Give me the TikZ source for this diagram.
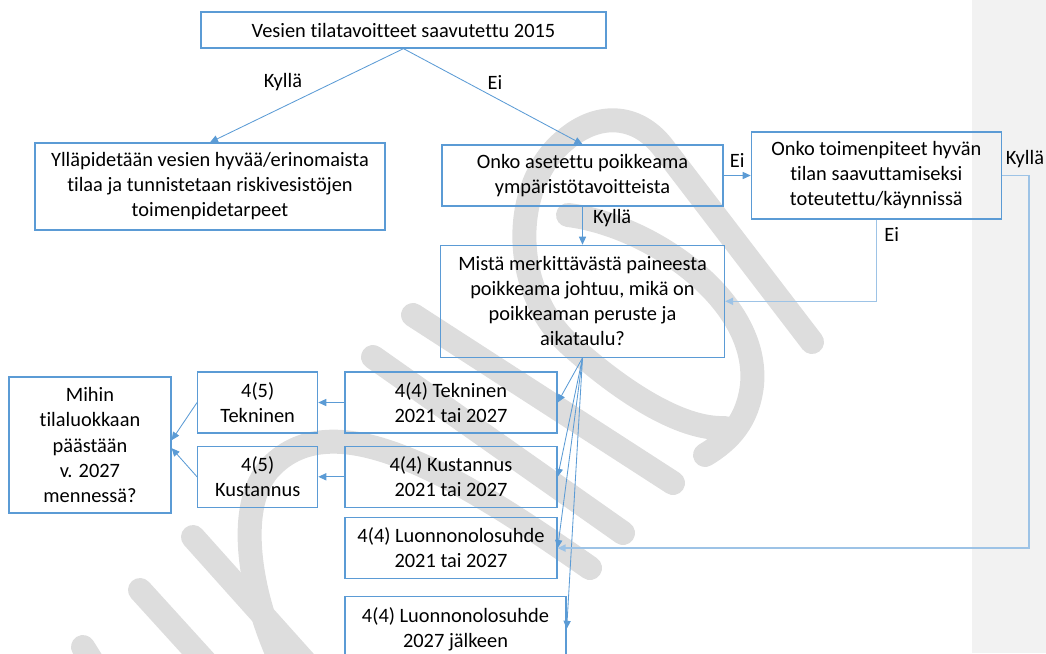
\documentclass[tikz,border=0pt]{standalone}
\usepackage{fontspec}
\setmainfont{Carlito}[Ligatures=NoCommon]
\usetikzlibrary{arrows.meta,positioning}
\definecolor{boxblue}{RGB}{91,155,213}
\definecolor{lineblue}{RGB}{157,195,230}
\definecolor{wmgray}{RGB}{221,221,221}
\definecolor{bandgray}{RGB}{242,242,242}

\begin{document}
\begin{tikzpicture}[x=0.025cm, y=-0.025cm,
  box/.style={draw=boxblue, line width=0.9pt, align=center,
              font=\fontsize{14.5}{17.8}\selectfont, inner sep=2pt},
  lbl/.style={font=\fontsize{14.5}{17.8}\selectfont, text=black, inner sep=1pt},
  arr/.style={-{Triangle[length=2mm,width=1.8mm]}, boxblue, line width=0.6pt},
  arrlight/.style={arr, lineblue, line width=1pt},
  wm/.style={wmgray, line width=0.6cm, line cap=round}
]
\useasboundingbox (0,0) rectangle (1046,653);
\fill[bandgray] (972,0) rectangle (1046,653);

% watermark
\draw[wm] (413,315) -- (673,483);
\draw[wm] (373,357) -- (623,533);
\draw[wm] (590,568) .. controls (450,470) and (330,400) .. (268,470)
          .. controls (235,510) and (250,600) .. (285,670);
\draw[wm] (193,537) -- (330,690);
\draw[wm] (140,590) -- (240,700);
\draw[wm] (83,647) -- (110,690);
\draw[wm] (812,342) -- (665,150) .. controls (640,115) and (600,110) .. (565,140)
          .. controls (510,185) and (510,290) .. (570,345)
          .. controls (620,390) and (680,430) .. (725,428);
\draw[wm] (568,215) .. controls (650,225) and (760,300) .. (752,385)
          .. controls (748,420) and (730,440) .. (705,455);

% Start
\node[box, minimum width=10.125cm, minimum height=0.9cm] (goal) at (403.5,30)
     {Vesien tilatavoitteet saavutettu 2015};
\node[lbl] (yes1) at (283,82) {Kyllä};
\node[lbl] (no1) at (495,82) {Ei};

% Kyllä branch
\node[box, minimum width=8.75cm, minimum height=2.175cm] (keep) at (210,186.5)
     {Ylläpidetään vesien hyvää/erinomaista\\tilaa ja tunnistetaan riskivesistöjen\\toimenpidetarpeet};
\draw[arr] (goal.south) -- (keep.north);

% Ei branch
\node[box, minimum width=7.025cm, minimum height=1.525cm] (dev) at (582.5,175.5)
     {Onko asetettu poikkeama\\ympäristötavoitteista};
\draw[arr] (goal.south) -- (dev.north);

\node[box, minimum width=6.25cm, minimum height=2.175cm, right=0.675cm of dev] (meas)
     {Onko toimenpiteet hyvän\\tilan saavuttamiseksi\\toteutettu/käynnissä};
\draw[arr] (dev.east) -- node[lbl, above, yshift=0.15cm] (no2) {Ei} (meas.west);

\node[box, minimum width=7.1cm, minimum height=2.8cm, below=0.95cm of dev] (press)
     {Mistä merkittävästä paineesta\\poikkeama johtuu, mikä on\\poikkeaman peruste ja\\aikataulu?};
\draw[arr] (dev.south) -- node[lbl, pos=0.3, right=0.22cm] (yes2) {Kyllä} (dev.south |- press.north);
\draw[arrlight] (meas.south) |- node[lbl, pos=0.09, right=0.15cm] (no3) {Ei} (press.east);

% Poikkeamat 4(4)
\node[box, minimum width=5.3cm, minimum height=1.525cm] (tech4) at (451,402.5)
     {4(4) Tekninen\\2021 tai 2027};
\node[box, minimum width=5.3cm, minimum height=1.525cm, below=0.3cm of tech4] (cost4)
     {4(4) Kustannus\\2021 tai 2027};
\node[box, minimum width=5.3cm, minimum height=1.525cm, below=0.225cm of cost4] (nat4)
     {4(4) Luonnonolosuhde\\2021 tai 2027};
\node[box, minimum width=5.525cm, minimum height=1.6cm,
      below=0.425cm of nat4.south west, anchor=north west] (late4)
     {4(4) Luonnonolosuhde\\2027 jälkeen};
\draw[arr] (press.south) -- (tech4.east);
\draw[arr] (press.south) -- (cost4.east);
\draw[arr] (press.south) -- (nat4.east);
\draw[arr] (press.south) -- (late4.east);
\draw[arrlight] (meas.east) -- ++(27,0) node[lbl, above, yshift=0.15cm, xshift=-0.1cm] (yes3) {Kyllä} |- (nat4.east);

% Poikkeamat 4(5)
\node[box, minimum width=3cm, minimum height=1.525cm, left=0.65cm of tech4] (tech5)
     {4(5)\\Tekninen};
\node[box, minimum width=3cm, minimum height=1.525cm, left=0.65cm of cost4] (cost5)
     {4(5)\\Kustannus};
\draw[arr] (tech4.west) -- (tech5.east);
\draw[arr] (cost4.west) -- (cost5.east);

% Tilaluokka
\node[box, minimum width=4.05cm, minimum height=3.4cm] (target) at (90,445)
     {Mihin\\tilaluokkaan\\päästään\\v. 2027\\mennessä?};
\draw[arr] (tech5.west) -- ([yshift=0.12cm]target.east);
\draw[arr] (cost5.west) -- ([yshift=-0.08cm]target.east);

\end{tikzpicture}
\end{document}
